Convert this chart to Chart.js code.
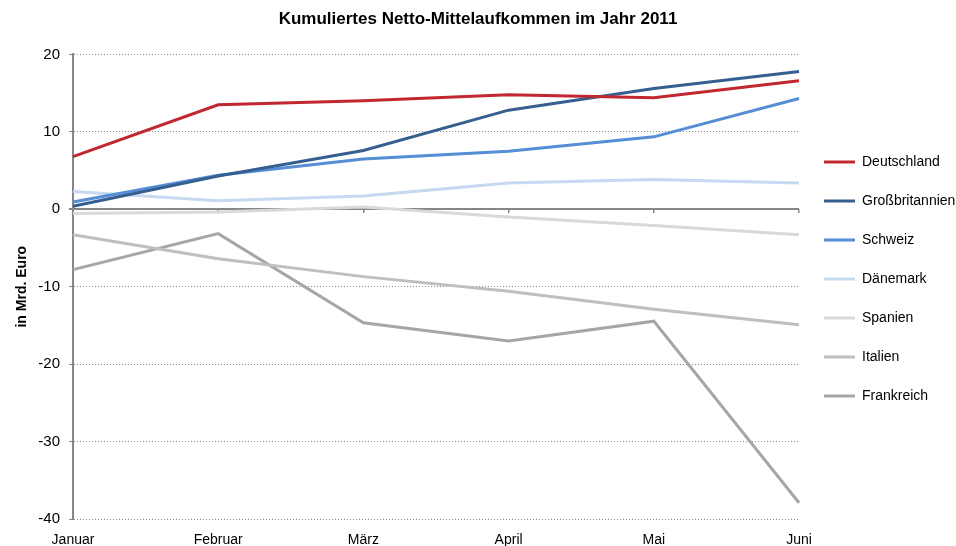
<!DOCTYPE html>
<html>
<head>
<meta charset="utf-8">
<script src="https://cdn.jsdelivr.net/npm/chart.js@4"></script>
<style>
  html, body { margin: 0; padding: 0; background: #fff; }
  #wrap { width: 956px; height: 546px; }
</style>
</head>
<body>
<div id="wrap"><canvas id="fundChart"></canvas></div>
<script>
const months = ['Januar', 'Februar', 'März', 'April', 'Mai', 'Juni'];

// cumulated net flows, bn EUR
const deutschland = [6.8, 13.5, 14.0, 14.8, 14.4, 16.6];
const grossbritannien = [0.4, 4.3, 7.6, 12.8, 15.6, 17.8];
const schweiz = [0.95, 4.4, 6.5, 7.5, 9.35, 14.3];
const daenemark = [2.3, 1.1, 1.7, 3.4, 3.85, 3.4];
const spanien = [-0.55, -0.35, 0.3, -1.0, -2.1, -3.3];
const italien = [-3.3, -6.4, -8.7, -10.6, -12.9, -14.9];
const frankreich = [-7.8, -3.15, -14.65, -17.0, -14.45, -37.9];

const y_ticks = { min: -40, max: 20, step: 10 };

const axis_color = '#868686';
const font_family = "'Liberation Sans', Arial, sans-serif";

function make_set(label, values, color) {
  return {
    label: label,
    data: values,
    borderColor: color,
    backgroundColor: color,
    borderWidth: 3,
    pointRadius: 0,
    tension: 0,
    xAxisID: 'x'
  };
}

let data = {
  labels: months,
  datasets: [
    make_set('Deutschland', deutschland, '#C0272F'),
    make_set('Großbritannien', grossbritannien, '#365F91'),
    make_set('Schweiz', schweiz, '#558ED5'),
    make_set('Dänemark', daenemark, '#C6D9F1'),
    make_set('Spanien', spanien, '#D9D9D9'),
    make_set('Italien', italien, '#BFBFBF'),
    make_set('Frankreich', frankreich, '#A6A6A6')
  ]
};

let config = {
  type: 'line',
  data: data,
  options: {
    responsive: true,
    maintainAspectRatio: false,
    animation: false,
    events: [],
    layout: { padding: 0 },
    plugins: {
      title: {
        display: true,
        text: 'Kumuliertes Netto-Mittelaufkommen im Jahr 2011',
        color: '#000',
        font: { family: font_family, size: 17, weight: 'bold' },
        padding: { top: 9, bottom: 25 }
      },
      legend: {
        position: 'right',
        align: 'start',
        maxWidth: 157,
        title: {
          // empty title, only used to push the entries down
          display: true,
          text: '',
          font: { size: 10 },
          padding: { top: 118, bottom: 0 }
        },
        labels: {
          color: '#000',
          font: { family: font_family, size: 14 },
          boxWidth: 31,
          boxHeight: 3,
          padding: 25,
          generateLabels: function (chart) {
            let items = Chart.defaults.plugins.legend.labels.generateLabels(chart);
            items.forEach(it => { it.fillStyle = it.strokeStyle; it.lineWidth = 0; });
            return items;
          }
        }
      },
      tooltip: { enabled: false }
    },
    scales: {
      x: {
        offset: false,
        grid: { display: false, drawTicks: false },
        border: { display: false },
        ticks: {
          color: '#000',
          font: { family: font_family, size: 14 },
          padding: 13,
          autoSkip: false,
          maxRotation: 0
        },
        afterFit: s => { s.height = 27; }
      },
      // zero line with small tick marks, like the original
      x0: {
        type: 'category',
        position: { y: 0 },
        offset: false,
        ticks: { display: false },
        grid: { drawOnChartArea: false, tickLength: 4, color: axis_color, lineWidth: 1.5 },
        border: { display: false }
      },
      y: {
        min: y_ticks.min,
        max: y_ticks.max,
        title: {
          display: true,
          text: 'in Mrd. Euro',
          color: '#000',
          font: { family: font_family, size: 14, weight: 'bold' },
          padding: { top: 14, bottom: 0 }
        },
        ticks: {
          stepSize: y_ticks.step,
          color: '#000',
          font: { family: font_family, size: 15 },
          padding: 9
        },
        grid: {
          color: ctx => ctx.tick && ctx.tick.value === 0 ? axis_color : '#8a8a8a',
          lineWidth: ctx => ctx.tick && ctx.tick.value === 0 ? 2 : 1,
          tickColor: axis_color,
          tickLength: 4
        },
        border: {
          color: axis_color,
          width: 2,
          dash: ctx => ctx.tick && ctx.tick.value === 0 ? [] : [1, 2]
        },
        afterFit: s => { s.width = 73; }
      }
    }
  }
};

let ctx = document.getElementById('fundChart').getContext('2d');
let fundChart = new Chart(ctx, config);
</script>
</body>
</html>
